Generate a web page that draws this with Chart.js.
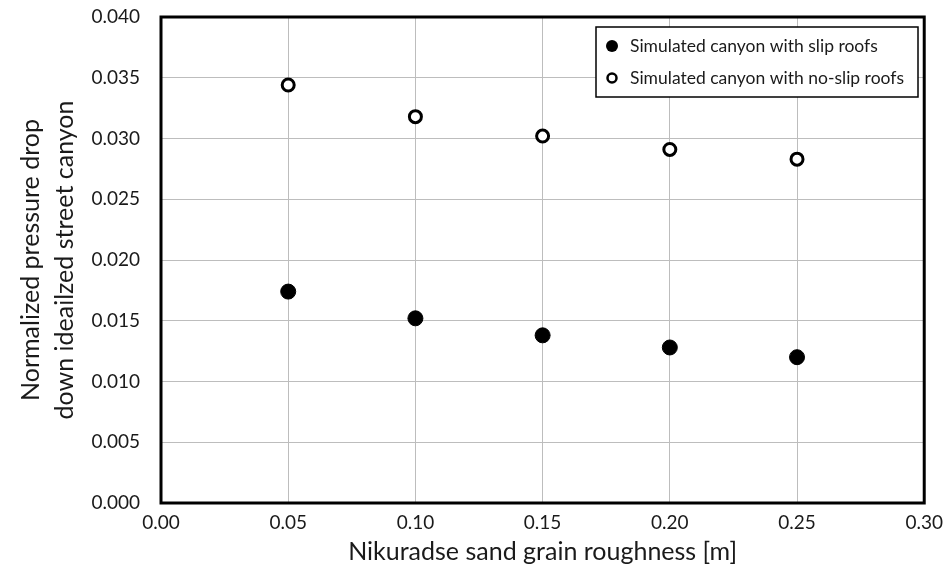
<!DOCTYPE html>
<html>
<head>
<meta charset="utf-8">
<script src="https://cdn.jsdelivr.net/npm/chart.js@4.4.0/dist/chart.umd.min.js"></script>
<style>
  html, body { margin: 0; padding: 0; background: #fff; }
  #wrap { width: 945px; height: 581px; position: relative; }
</style>
</head>
<body>
<div id="wrap"><canvas id="chart" width="945" height="581"></canvas></div>
<script>
// ==================== DATA ====================
const roughness = [0.05, 0.10, 0.15, 0.20, 0.25];
const slipRoofs = [0.0174, 0.0152, 0.0138, 0.0128, 0.0120];
const noSlipRoofs = [0.0344, 0.0318, 0.0302, 0.0291, 0.0283];
const seriesNames = ['Simulated canyon with slip roofs', 'Simulated canyon with no-slip roofs'];
const xTitle = 'Nikuradse sand grain roughness [m]';
const yTitle = ['Normalized pressure drop', 'down ideailzed street canyon'];

const FONT = 'Lato, "Open Sans", sans-serif';

const toPoints = (xs, ys) => xs.map((x, i) => ({ x, y: ys[i] }));

// frame around the plot area (Excel-style box)
const framePlugin = {
    id: 'frame',
    afterDatasetsDraw(chart) {
        const { ctx, chartArea: a } = chart;
        ctx.save();
        ctx.strokeStyle = '#000';
        ctx.lineWidth = 3;
        ctx.strokeRect(a.left, a.top, a.right - a.left, a.bottom - a.top);
        ctx.restore();
    }
};

// legend box inside the plot, top right
const boxLegend = {
    id: 'boxLegend',
    afterDraw(chart) {
        const { ctx } = chart;
        const x0 = 596, y0 = 27, w = 322, h = 70;
        ctx.save();
        ctx.fillStyle = '#fff';
        ctx.fillRect(x0, y0, w, h);
        ctx.strokeStyle = '#000';
        ctx.lineWidth = 1.5;
        ctx.strokeRect(x0, y0, w, h);
        ctx.font = '17.5px ' + FONT;
        ctx.textBaseline = 'middle';
        chart.data.datasets.forEach((ds, i) => {
            const cy = y0 + 19 + i * 32;
            const cx = x0 + 16;
            ctx.beginPath();
            if (i === 0) {
                ctx.arc(cx, cy, 6, 0, Math.PI * 2);
                ctx.fillStyle = '#000';
                ctx.fill();
            } else {
                ctx.arc(cx, cy, 4.5, 0, Math.PI * 2);
                ctx.fillStyle = '#fff';
                ctx.fill();
                ctx.lineWidth = 2.5;
                ctx.strokeStyle = '#000';
                ctx.stroke();
            }
            ctx.fillStyle = '#1a1a1a';
            ctx.fillText(ds.label, x0 + 34, cy);
        });
        ctx.restore();
    }
};

new Chart(document.getElementById('chart'), {
    type: 'scatter',
    data: {
        datasets: [
            {
                label: seriesNames[0],
                data: toPoints(roughness, slipRoofs),
                pointRadius: 7.5,
                pointBackgroundColor: '#000',
                pointBorderColor: '#000',
                pointBorderWidth: 1
            },
            {
                label: seriesNames[1],
                data: toPoints(roughness, noSlipRoofs),
                pointRadius: 6,
                pointBackgroundColor: '#fff',
                pointBorderColor: '#000',
                pointBorderWidth: 3
            }
        ]
    },
    plugins: [framePlugin, boxLegend],
    options: {
        responsive: false,
        animation: false,
        layout: { padding: { top: 17, right: 20, left: 10, bottom: 14 } },
        plugins: {
            legend: { display: false },
            tooltip: { enabled: false }
        },
        scales: {
            x: {
                type: 'linear',
                min: 0,
                max: 0.30,
                afterFit: s => { s.height = 64; },
                ticks: {
                    stepSize: 0.05,
                    padding: 2,
                    color: '#1a1a1a',
                    font: { family: FONT, size: 19 },
                    callback: v => v.toFixed(2)
                },
                grid: { color: '#bdbdbd', lineWidth: 1, drawTicks: true, tickLength: 6, tickColor: 'transparent' },
                border: { display: false },
                title: {
                    display: true,
                    text: xTitle,
                    color: '#1a1a1a',
                    font: { family: FONT, size: 25 },
                    padding: { top: 4, bottom: 0 }
                }
            },
            y: {
                min: 0,
                max: 0.040,
                afterFit: s => { s.width = 151; },
                ticks: {
                    stepSize: 0.005,
                    padding: 2,
                    color: '#1a1a1a',
                    font: { family: FONT, size: 19 },
                    callback: v => v.toFixed(3)
                },
                grid: { color: '#bdbdbd', lineWidth: 1, drawTicks: true, tickLength: 19, tickColor: 'transparent' },
                border: { display: false },
                title: {
                    display: true,
                    text: yTitle,
                    color: '#1a1a1a',
                    font: { family: FONT, size: 25, lineHeight: 1.35 },
                    padding: { bottom: 4 }
                }
            }
        }
    }
});
</script>
</body>
</html>
